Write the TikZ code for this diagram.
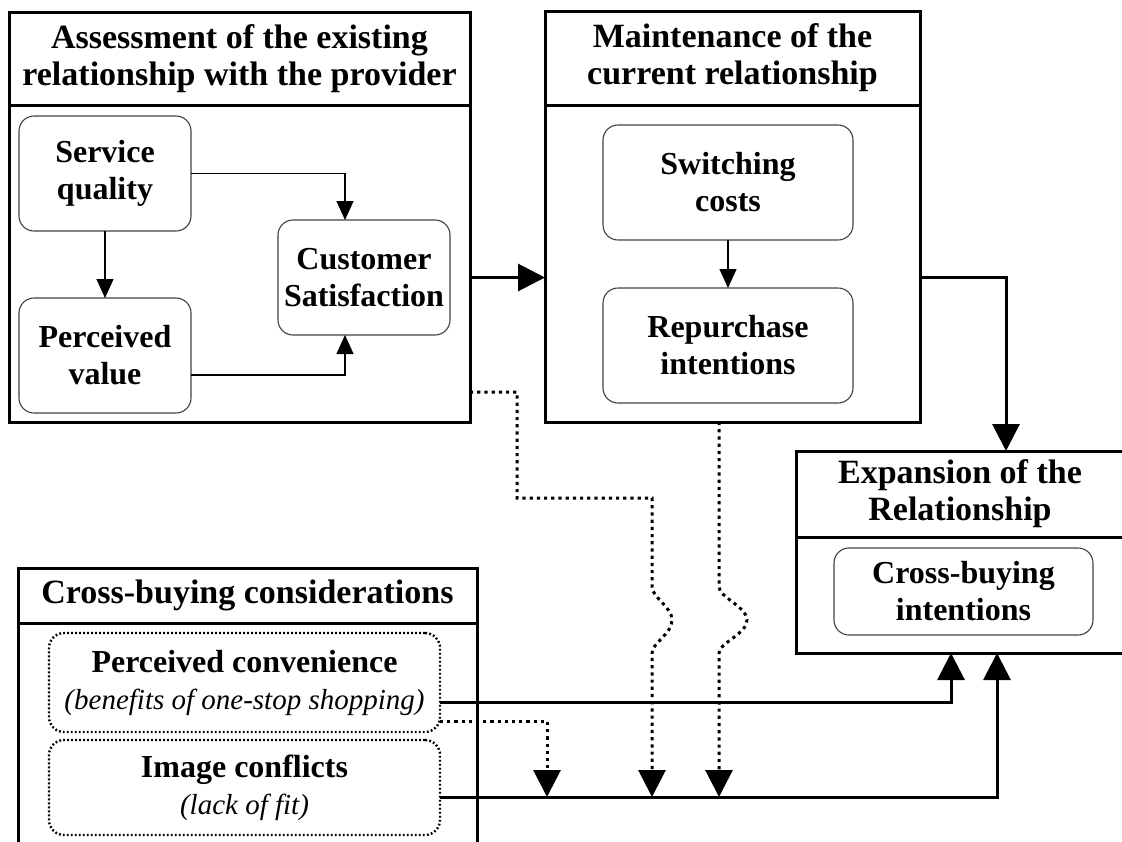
\documentclass[tikz,border=0pt]{standalone}
\usepackage{fontspec}
\setmainfont{Liberation Serif}
\usepackage{tikz}
\usetikzlibrary{positioning,arrows.meta}

\tikzset{
  ttlbox/.style={draw, line width=3pt, inner sep=0pt, outer sep=0pt, align=center,
    font=\fontsize{34}{37}\selectfont\bfseries},
  grpbox/.style={draw, line width=3pt, inner sep=0pt, outer sep=0pt},
  inbox/.style={draw=black!75, line width=1.1pt, rounded corners=15pt, inner sep=0pt,
    outer sep=0pt, align=center, font=\fontsize{32}{37}\selectfont\bfseries},
  dotbox/.style={inbox, draw=black, line width=2.4pt, dash pattern=on 1.8pt off 2.2pt},
  thinarr/.style={line width=1.2pt, -{Triangle[length=19pt,width=17pt]}},
  thickarr/.style={line width=3pt, -{Triangle[length=27pt,width=27pt]}},
  dotarr/.style={thickarr, dash pattern=on 3.2pt off 4pt},
}

\begin{document}
\begin{tikzpicture}[x=1pt, y=-1pt]
    \useasboundingbox (0,0) rectangle (1122,841);
    \clip (0,0) rectangle (1122,841);

    \node[ttlbox, minimum width=461pt, minimum height=93pt] (assessT) at (239.5,58.5) {Assessment of the existing\\relationship with the provider};
    \node[grpbox, minimum width=461pt, minimum height=317pt, below=0pt of assessT] (assess) {};
    \node[ttlbox, minimum width=375pt, minimum height=94pt] (maintT) at (732.5,58) {Maintenance of the\\current relationship};
    \node[grpbox, minimum width=375pt, minimum height=317pt, below=0pt of maintT] (maint) {};
    \node[ttlbox, minimum width=328pt, minimum height=86pt] (expanT) at (960,494) {Expansion of the\\Relationship};
    \node[grpbox, minimum width=328pt, minimum height=116pt, below=0pt of expanT] (expan) {};
    \node[ttlbox, minimum width=459pt, minimum height=55pt] (crossT) at (247.5,595.5) {Cross-buying considerations};
    \node[grpbox, minimum width=459pt, minimum height=300pt, below=0pt of crossT] (cross) {};

    \node[inbox, minimum width=172pt, minimum height=115pt] (sq) at (105,173.5) {Service\\quality};
    \node[inbox, minimum width=172pt, minimum height=115pt] (pv) at (105,355.5) {Perceived\\value};
    \node[inbox, minimum width=172pt, minimum height=115pt] (cs) at (364,277.5) {Customer\\Satisfaction};
    \node[inbox, minimum width=250pt, minimum height=115pt] (sc) at (728,182.5) {Switching\\costs};
    \node[inbox, minimum width=250pt, minimum height=115pt] (ri) at (728,345.5) {Repurchase\\intentions};
    \node[inbox, minimum width=259pt, minimum height=87pt] (cbi) at (963.5,591.5) {Cross-buying\\intentions};
    \node[dotbox, minimum width=391pt, minimum height=99pt] (pc) at (244.5,682.5) {Perceived convenience\\{\mdseries\itshape\fontsize{29}{36}\selectfont (benefits of one-stop shopping)}};
    \node[dotbox, minimum width=391pt, minimum height=95pt] (ic) at (244.5,787.5) {Image conflicts\\{\mdseries\itshape\fontsize{29}{36}\selectfont (lack of fit)}};

    \coordinate (j1) at (547,797);
    \coordinate (j2) at (652,797);
    \coordinate (j3) at (719,797);

    \draw[thinarr] (sq) -- (pv);
    \draw[thinarr] (sq.east) -| ([xshift=-19pt]cs.north);
    \draw[thinarr] ([yshift=-19.5pt]pv.east) -| ([xshift=-19pt]cs.south);
    \draw[thinarr] (sc) -- (ri);

    \draw[thickarr] (assess.east |- cs) -- (maint.west |- cs);
    \draw[thickarr] (maint.east |- cs) -| ([xshift=46pt]expanT.north);
    \draw[thickarr] ([yshift=-19.5pt]pc.east) -| ([xshift=-9pt]expan.south);
    \draw[thickarr] ([yshift=-9.5pt]ic.east) -| ([xshift=37pt]expan.south);

    \draw[dotarr] ([yshift=-38.5pt]pc.east) -| (j1);
    \draw[dotarr] ([yshift=-128.5pt]assess.east) -| (517,498) -| (652,587)
        .. controls (652,597) and (672,607) .. (672,620)
        .. controls (672,634) and (652,643) .. (652,653) -- (j2);
    \draw[dotarr] ([xshift=-13.5pt]maint.south) -- (719,587)
        .. controls (719,597) and (747,607) .. (747,620)
        .. controls (747,634) and (719,643) .. (719,653) -- (j3);
\end{tikzpicture}
\end{document}
